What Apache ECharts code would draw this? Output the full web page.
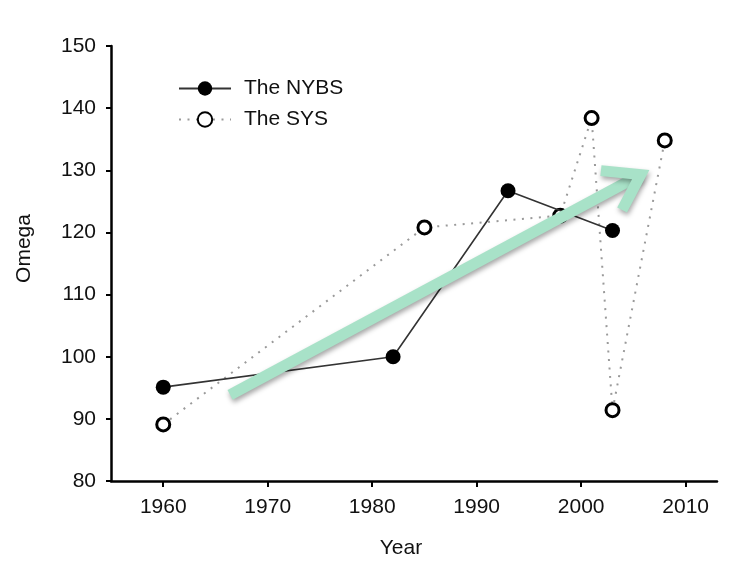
<!DOCTYPE html>
<html>
<head>
<meta charset="utf-8">
<style>html,body{margin:0;padding:0;background:#fff;}#c{width:730px;height:564px;}</style>
<script src="https://cdn.jsdelivr.net/npm/echarts@6/dist/echarts.min.js"></script>
</head>
<body>
<div id="c"></div>
<script>
// ---- data ----
var seriesNames = ['The NYBS', 'The SYS'];
var nybsYears = [1960, 1982, 1993, 2003];
var nybsOmega = [95.1, 100, 126.7, 120.3];
var sysYears = [1960, 1985, 1998, 2001, 2003, 2008];
var sysOmega = [89.1, 120.8, 122.7, 138.4, 91.4, 134.8];
var xTickLabels = [1960, 1970, 1980, 1990, 2000, 2010];
var yTickLabels = [80, 90, 100, 110, 120, 130, 140, 150];
// trend arrow (start year/value, end year/value)
var arrowStart = [1966.4, 93.85];
var arrowEnd = [2005.7, 129.3];

function pairs(xs, ys) { return xs.map(function (x, i) { return [x, ys[i]]; }); }

var FONT = '"Liberation Sans", Arial, sans-serif';
var chart = echarts.init(document.getElementById('c'), null, { renderer: 'canvas' });

chart.setOption({
  animation: false,
  backgroundColor: '#ffffff',
  textStyle: { fontFamily: FONT },
  grid: { left: 111, right: 13, top: 46, bottom: 83, containLabel: false },
  legend: {
    orient: 'vertical',
    left: 178,
    top: 78,
    padding: 0,
    itemWidth: 52,
    itemHeight: 18,
    itemGap: 10,
    data: seriesNames,
    textStyle: { fontFamily: FONT, fontSize: 21, color: '#111', lineHeight: 21, padding: [0, 0, 0, 8] }
  },
  xAxis: {
    type: 'value',
    min: 1955,
    max: 2013,
    name: 'Year',
    nameLocation: 'middle',
    nameGap: 57,
    nameTextStyle: { fontFamily: FONT, fontSize: 21, color: '#111', padding: [0, 26, 0, 0] },
    splitLine: { show: false },
    axisLine: { show: true, onZero: false, lineStyle: { color: '#000', width: 2.5 } },
    axisTick: { show: true, customValues: xTickLabels, length: 6, lineStyle: { color: '#000', width: 2 } },
    axisLabel: { customValues: xTickLabels, margin: 16, fontFamily: FONT, fontSize: 21, color: '#111',
      formatter: function (v) { return String(v); } }
  },
  yAxis: {
    type: 'value',
    min: 80,
    max: 150,
    interval: 10,
    name: 'Omega',
    nameLocation: 'middle',
    nameGap: 76,
    nameRotate: 90,
    nameTextStyle: { fontFamily: FONT, fontSize: 21, color: '#111', padding: [0, 0, 0, 30] },
    splitLine: { show: false },
    axisLine: { show: true, onZero: false, lineStyle: { color: '#000', width: 2.5 } },
    axisTick: { show: true, length: 5, lineStyle: { color: '#000', width: 2 } },
    axisLabel: { margin: 15, fontFamily: FONT, fontSize: 21, color: '#111',
      formatter: function (v) { return yTickLabels.indexOf(v) >= 0 ? String(v) : ''; } }
  },
  series: [
    {
      name: seriesNames[1],
      type: 'line',
      data: pairs(sysYears, sysOmega),
      symbol: 'circle',
      symbolSize: 13,
      z: 3,
      lineStyle: { color: '#9a9a9a', width: 2, type: [2, 6.5] },
      itemStyle: { color: '#ffffff', borderColor: '#000', borderWidth: 3 }
    },
    {
      name: seriesNames[0],
      type: 'line',
      data: pairs(nybsYears, nybsOmega),
      symbol: 'circle',
      symbolSize: 15,
      z: 4,
      lineStyle: { color: '#333', width: 1.6 },
      itemStyle: { color: '#000', borderColor: '#000', borderWidth: 0 }
    },
    {
      name: 'trend',
      type: 'custom',
      z: 10,
      clip: false,
      data: [[arrowStart[0], arrowStart[1], arrowEnd[0], arrowEnd[1]]],
      encode: { x: [0, 2], y: [1, 3] },
      renderItem: function (params, api) {
        var p0 = api.coord([api.value(0), api.value(1)]);
        var p1 = api.coord([api.value(2), api.value(3)]);
        var dx = p0[0] - p1[0], dy = p0[1] - p1[1];
        var len = Math.sqrt(dx * dx + dy * dy);
        var ux = dx / len, uy = dy / len;
        var ang = 34 * Math.PI / 180, armLen = 40;
        function rot(a) {
          return [p1[0] + armLen * (ux * Math.cos(a) - uy * Math.sin(a)),
                  p1[1] + armLen * (ux * Math.sin(a) + uy * Math.cos(a))];
        }
        var style = {
          stroke: '#a8e2c8', lineWidth: 11, fill: null,
          shadowBlur: 5, shadowColor: 'rgba(0,0,0,0.35)', shadowOffsetX: 1, shadowOffsetY: 3
        };
        return {
          type: 'group',
          children: [
            { type: 'polyline', shape: { points: [p0, p1] }, style: Object.assign({ lineCap: 'butt' }, style) },
            { type: 'polyline', shape: { points: [rot(ang), p1, rot(-ang)] },
              style: Object.assign({ lineCap: 'butt', lineJoin: 'miter', miterLimit: 10 }, style) }
          ]
        };
      }
    }
  ]
});
</script>
</body>
</html>
